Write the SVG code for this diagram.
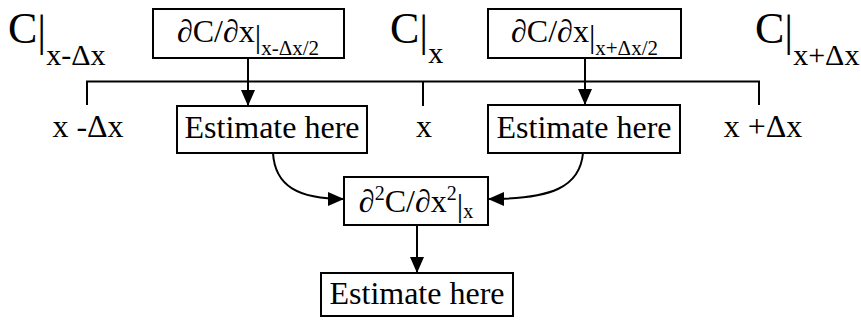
<svg xmlns="http://www.w3.org/2000/svg" width="861" height="320" viewBox="0 0 861 320" font-family="'Liberation Serif', 'Times New Roman', 'DejaVu Serif', serif">
<style>
text, tspan{font-family:'Liberation Serif', 'Times New Roman', 'DejaVu Serif', serif;fill:#000}
.box{fill:#fff;stroke:#000;stroke-width:2}
.ln{fill:none;stroke:#000;stroke-width:2}
.t32{font-size:32px}
.big{font-size:44px}
</style>
<defs>
<marker id="ah" markerUnits="userSpaceOnUse" markerWidth="16" markerHeight="16" viewBox="0 0 16 14" refX="16" refY="7" orient="auto">
<path d="M0,0 L16,7 L0,14 z" fill="#000"/>
</marker>
</defs>
<g id="labels">
<text x="8" y="43" class="big">C<tspan dy="3">|</tspan><tspan font-size="30" dy="19">x-Δx</tspan></text>
<text x="390" y="43" class="big">C<tspan dy="3">|</tspan><tspan font-size="30" dy="17">x</tspan></text>
<text x="755" y="43" class="big">C<tspan dy="3">|</tspan><tspan font-size="30" dy="19">x+Δx</tspan></text>
<text x="88" y="137" class="t32" text-anchor="middle">x -Δx</text>
<text x="424" y="137" class="t32" text-anchor="middle">x</text>
<text x="763" y="137" class="t32" text-anchor="middle">x +Δx</text>
</g>
<g id="connectors">
<path class="ln" d="M87,105 V81.5 H759 V105"/>
<path class="ln" d="M423,81.5 V106"/>
<path class="ln" d="M248,58 V106" marker-end="url(#ah)"/>
<path class="ln" d="M585,58 V105" marker-end="url(#ah)"/>
<path class="ln" d="M273,153 C275,186 298,199 344,199" marker-end="url(#ah)"/>
<path class="ln" d="M583,153 C580,187 552,199 488,199" marker-end="url(#ah)"/>
<path class="ln" d="M417,225 V273" marker-end="url(#ah)"/>
</g>
<g id="dCdx-minus">
<rect class="box" x="153" y="9" width="191" height="49"/>
<text x="248" y="42" class="t32" text-anchor="middle">∂C/∂x<tspan dy="5">|</tspan><tspan font-size="21" dy="8">x-Δx/2</tspan></text>
</g>
<g id="dCdx-plus">
<rect class="box" x="488" y="9" width="193" height="49"/>
<text x="584.5" y="42" class="t32" text-anchor="middle">∂C/∂x<tspan dy="5">|</tspan><tspan font-size="21" dy="8">x+Δx/2</tspan></text>
</g>
<g id="estimate-left">
<rect class="box" x="177" y="106" width="190" height="47"/>
<text x="272" y="138" class="t32" text-anchor="middle">Estimate here</text>
</g>
<g id="estimate-right">
<rect class="box" x="488" y="105" width="192" height="48"/>
<text x="584" y="138" class="t32" text-anchor="middle">Estimate here</text>
</g>
<g id="d2Cdx2">
<rect class="box" x="344" y="177" width="144" height="48"/>
<text x="416" y="212" class="t32" text-anchor="middle">∂<tspan font-size="20" dy="-12">2</tspan><tspan dy="12">C/∂x</tspan><tspan font-size="20" dy="-12">2</tspan><tspan dy="16">|</tspan><tspan font-size="20" dy="2">x</tspan></text>
</g>
<g id="estimate-bottom">
<rect class="box" x="321" y="273" width="192" height="43"/>
<text x="417" y="304" class="t32" text-anchor="middle">Estimate here</text>
</g>
</svg>
